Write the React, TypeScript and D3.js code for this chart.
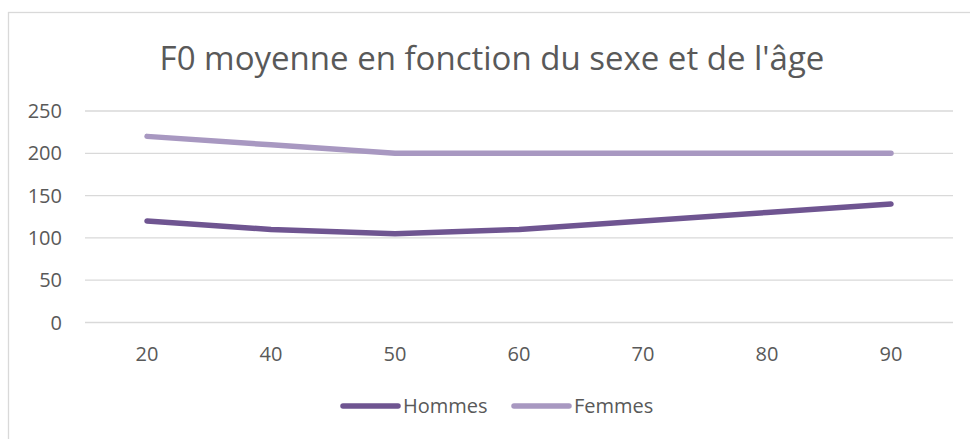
import React from "react";
import * as d3 from "d3";

const categories = ["20", "40", "50", "60", "70", "80", "90"];
const hommes = [120, 110, 105, 110, 120, 130, 140];
const femmes = [220, 210, 200, 200, 200, 200, 200];
const yTicks = [0, 50, 100, 150, 200, 250];
const seriesNames = ["Hommes", "Femmes"];
const seriesColors = ["#6f5591", "#a898c1"];

const W = 970;
const H = 439;
const FONT = "'Open Sans', 'Liberation Sans', sans-serif";

export default function App() {
  const x = d3.scaleBand<string>().domain(categories).range([85, 953]);
  const y = d3.scaleLinear().domain([0, 250]).range([322.5, 111]);
  const line = d3
    .line<number>()
    .x((_, i) => (x(categories[i]) as number) + x.bandwidth() / 2)
    .y((d) => y(d));
  const series = [hommes, femmes];
  const legendX = [343, 514];

  return (
    <svg
      width={W}
      height={H}
      style={{ position: "absolute", left: 0, top: 0, background: "#fff" }}
      fontFamily={FONT}
    >
      <rect x={8.5} y={12.5} width={1000} height={500} fill="#fff" stroke="#d9d9d9" strokeWidth={1.3} />
      <text x={492} y={70} textAnchor="middle" fontSize={33} fill="#595959">
        F0 moyenne en fonction du sexe et de l'âge
      </text>
      {yTicks.map((t) => (
        <g key={t}>
          <line x1={85} x2={953} y1={y(t)} y2={y(t)} stroke="#d9d9d9" strokeWidth={1.3} />
          <text x={62} y={y(t)} dy="0.35em" textAnchor="end" fontSize={20} fill="#595959">
            {t}
          </text>
        </g>
      ))}
      {categories.map((c) => (
        <text
          key={c}
          x={(x(c) as number) + x.bandwidth() / 2}
          y={354}
          dy="0.35em"
          textAnchor="middle"
          fontSize={20}
          fill="#595959"
        >
          {c}
        </text>
      ))}
      {series.map((s, i) => (
        <path
          key={i}
          d={line(s) as string}
          fill="none"
          stroke={seriesColors[i]}
          strokeWidth={5.5}
          strokeLinecap="round"
          strokeLinejoin="round"
        />
      ))}
      {seriesNames.map((n, i) => (
        <g key={n}>
          <line
            x1={legendX[i]}
            x2={legendX[i] + 55}
            y1={406}
            y2={406}
            stroke={seriesColors[i]}
            strokeWidth={5.5}
            strokeLinecap="round"
          />
          <text x={legendX[i] + 60} y={406} dy="0.35em" fontSize={20} fill="#595959">
            {n}
          </text>
        </g>
      ))}
    </svg>
  );
}
